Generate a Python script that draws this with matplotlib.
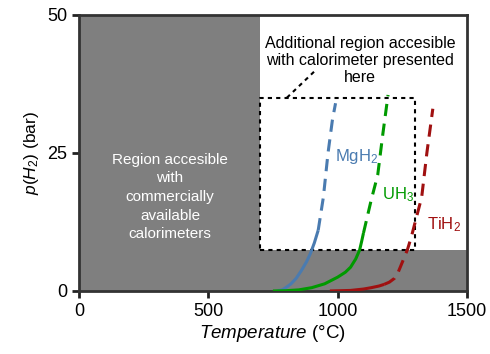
import matplotlib
matplotlib.use('Agg')
import matplotlib.pyplot as plt

plt.rcParams['font.family'] = ['Liberation Sans', 'DejaVu Sans']
plt.rcParams['mathtext.fontset'] = 'custom'
plt.rcParams['mathtext.rm'] = 'Liberation Sans'
plt.rcParams['mathtext.it'] = 'Liberation Sans:italic'

# temperature (C) vs pressure (bar)
mgh2_T = [765, 785, 800, 820, 840, 860, 880, 895, 910, 925, 945, 963, 980, 992]
mgh2_p = [0, 0.2, 0.6, 1.3, 2.3, 3.7, 5.3, 6.8, 8.7, 11, 17, 25, 31, 34]
mgh2_solid = 10  # first n points drawn solid

uh3_T = [750, 800, 850, 900, 950, 1000, 1030, 1050, 1070, 1085, 1093, 1100,
         1130, 1155, 1175, 1195]
uh3_p = [0, 0.05, 0.2, 0.6, 1.3, 2.5, 3.4, 4.3, 5.8, 7.4, 9, 10.5,
         16.5, 21, 28.5, 35.5]
uh3_solid = 12

tih2_T = [970, 1050, 1100, 1130, 1160, 1180, 1200, 1220, 1235, 1250, 1270,
          1285, 1305, 1325, 1345, 1368]
tih2_p = [0, 0.1, 0.35, 0.6, 0.9, 1.2, 1.6, 2.3, 3.5, 5.2, 7.5,
          9.8, 13.4, 17, 25, 33]
tih2_solid = 6

# regions
commercial_T = 700
commercial_p = 7.5
box_T = [700, 1300]
box_p = [7.5, 35]

fig = plt.figure(figsize=(4.9, 3.54), dpi=100)
ax = fig.add_axes([0.161, 0.178, 0.792, 0.780])

gray = '#7f7f7f'
ax.set_facecolor(gray)
ax.fill_between([commercial_T, 1500], commercial_p, 50, color='white', lw=0, zorder=0.5)

# dashed box for new region
bx = [box_T[0], box_T[1], box_T[1], box_T[0], box_T[0]]
by = [box_p[0], box_p[0], box_p[1], box_p[1], box_p[0]]
ax.plot(bx, by, color='black', lw=1.5, ls=(0, (2, 2)), zorder=2)
ax.plot([804, 920], [35, 40.2], color='black', lw=1.5, ls=(0, (2, 2)), zorder=2)

series = [
    (mgh2_T, mgh2_p, mgh2_solid, '#4a7bb0'),
    (uh3_T, uh3_p, uh3_solid, '#009a00'),
    (tih2_T, tih2_p, tih2_solid, '#a01010'),
]
for T, p, n, c in series:
    ax.plot(T[:n], p[:n], color=c, lw=2.2, solid_capstyle='butt', zorder=3)
    ax.plot(T[n - 1:], p[n - 1:], color=c, lw=2.2, ls=(0, (4, 2.5)), zorder=3)

ax.text(990, 24.3, 'MgH$_2$', color='#4a7bb0', fontsize=12, va='center')
ax.text(1171, 17.4, 'UH$_3$', color='#009a00', fontsize=12, va='center')
ax.text(1345, 12, 'TiH$_2$', color='#a01010', fontsize=12, va='center')

ax.text(352, 17, 'Region accesible\nwith\ncommercially\navailable\ncalorimeters',
        color='white', fontsize=11, ha='center', va='center', linespacing=1.42)
ax.text(1086, 41.7, 'Additional region accesible\nwith calorimeter presented\nhere',
        color='black', fontsize=11.5, ha='center', va='center', linespacing=1.15)

ax.set_xlim(0, 1500)
ax.set_ylim(0, 50)
ax.set_xticks([0, 500, 1000, 1500])
ax.set_yticks([0, 25, 50])
ax.tick_params(direction='out', length=5, width=2, labelsize=13, color='#222222')
for s in ax.spines.values():
    s.set_linewidth(2)
    s.set_color('#333333')
ax.set_xlabel(r'$\mathit{Temperature}$ (°C)', fontsize=13.5, labelpad=2)
ax.set_ylabel(r'$p(H_2)$ (bar)', fontsize=12.5)

fig.savefig('out.png', dpi=100)
